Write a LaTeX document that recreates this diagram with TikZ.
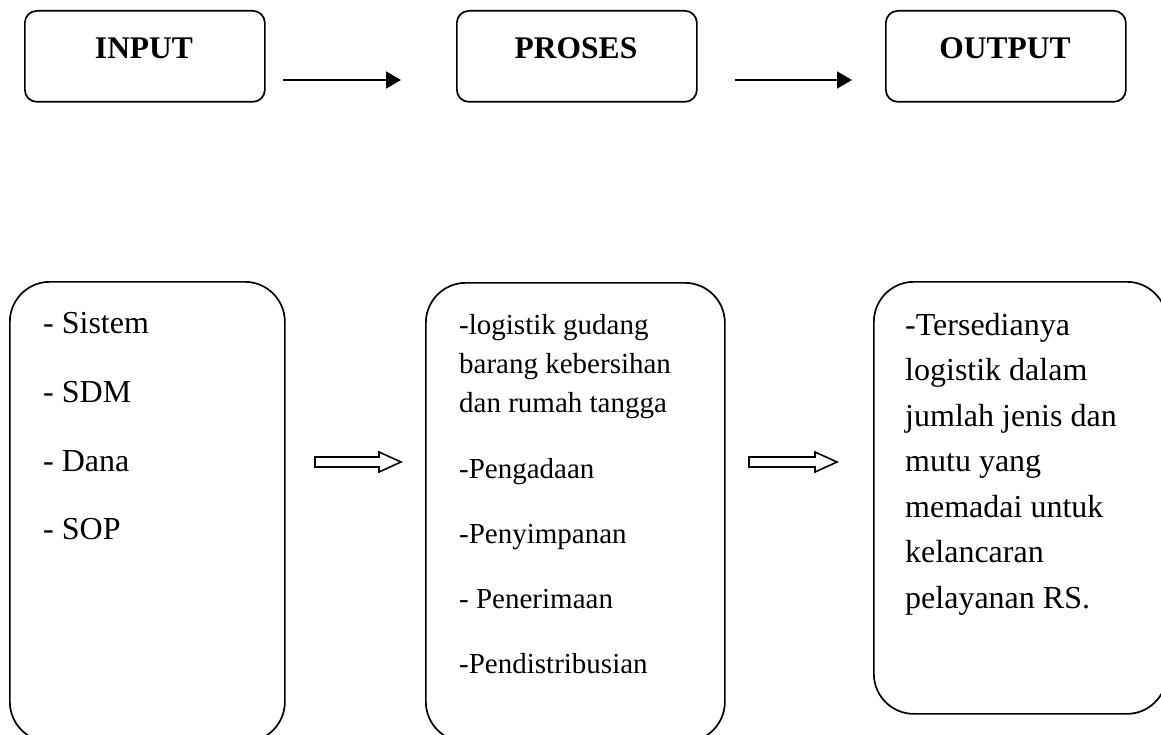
\documentclass[tikz,border=0pt]{standalone}
\usepackage{fontspec}
\setmainfont{Liberation Serif}
\usetikzlibrary{arrows.meta}
\begin{document}
\begin{tikzpicture}[x=1pt,y=-1pt,
  topbox/.style={draw, line width=1.7pt, rounded corners=12pt, minimum width=240pt, minimum height=91pt, inner sep=0pt, anchor=north west},
  bigbox/.style={draw, line width=1.7pt, rounded corners=40pt, inner sep=0pt, anchor=north west},
  title/.style={font=\bfseries\fontsize{31.5}{36}\selectfont, inner sep=0pt, anchor=base},
  maintxt/.style={font=\fontsize{32}{38}\selectfont, inner sep=0pt, anchor=base west},
  protxt/.style={font=\fontsize{29}{34}\selectfont, inner sep=0pt, anchor=base west},
  flow/.style={line width=1.6pt, -{Triangle[length=15pt,width=17pt]}},
  hollow/.style={draw, line width=1.6pt, fill=white, line join=miter}
]
\clip (0,0) rectangle (1161,735);
% top boxes
\node[topbox] (inbox) at (24,10) {};
\node[topbox] (prbox) at (456,10) {};
\node[topbox] (outbox) at (885,10) {};
\node[title] (tin) at (144,59) {INPUT};
\node[title] (tpr) at (576,59) {PROSES};
\node[title] (tout) at (1005,59) {OUTPUT};
% top arrows
\coordinate (a1s) at (283,80);
\coordinate (a1e) at (401,80);
\coordinate (a2s) at (735,80);
\coordinate (a2e) at (852,80);
\draw[flow] (a1s) -- (a1e);
\draw[flow] (a2s) -- (a2e);
% bottom boxes
\node[bigbox, minimum width=275pt, minimum height=460pt] (inb) at (9,281) {};
\node[bigbox, minimum width=299pt, minimum height=459pt] (prb) at (425,282) {};
\node[bigbox, minimum width=293pt, minimum height=432pt] (outb) at (873,281) {};
% input texts
\node[maintxt] (i1) at (43,333) {- Sistem};
\node[maintxt] (i2) at (43,402) {- SDM};
\node[maintxt] (i3) at (43,471) {- Dana};
\node[maintxt] (i4) at (43,539) {- SOP};
% proses texts
\node[protxt] (p1) at (459,334) {-logistik gudang};
\node[protxt] (p2) at (459,373) {barang kebersihan};
\node[protxt] (p3) at (459,412) {dan rumah tangga};
\node[protxt] (p4) at (459,478) {-Pengadaan};
\node[protxt] (p5) at (459,543) {-Penyimpanan};
\node[protxt] (p6) at (459,608) {- Penerimaan};
\node[protxt] (p7) at (459,673) {-Pendistribusian};
% output texts
\node[maintxt] (o1) at (905,335) {-Tersedianya};
\node[maintxt] (o2) at (905,380.5) {logistik dalam};
\node[maintxt] (o3) at (905,426) {jumlah jenis dan};
\node[maintxt] (o4) at (905,471.5) {mutu yang};
\node[maintxt] (o5) at (905,517) {memadai untuk};
\node[maintxt] (o6) at (905,562.5) {kelancaran};
\node[maintxt] (o7) at (905,608) {pelayanan RS.};
% hollow arrows
\coordinate (h1) at (315,462);
\coordinate (h2) at (749,462);
\draw[hollow] (h1) ++(0,-5) -- ++(64,0) -- ++(0,-5) -- ++(22,10) -- ++(-22,10) -- ++(0,-5) -- ++(-64,0) -- cycle;
\draw[hollow] (h2) ++(0,-5) -- ++(66,0) -- ++(0,-5) -- ++(22,10) -- ++(-22,10) -- ++(0,-5) -- ++(-66,0) -- cycle;
\end{tikzpicture}
\end{document}
